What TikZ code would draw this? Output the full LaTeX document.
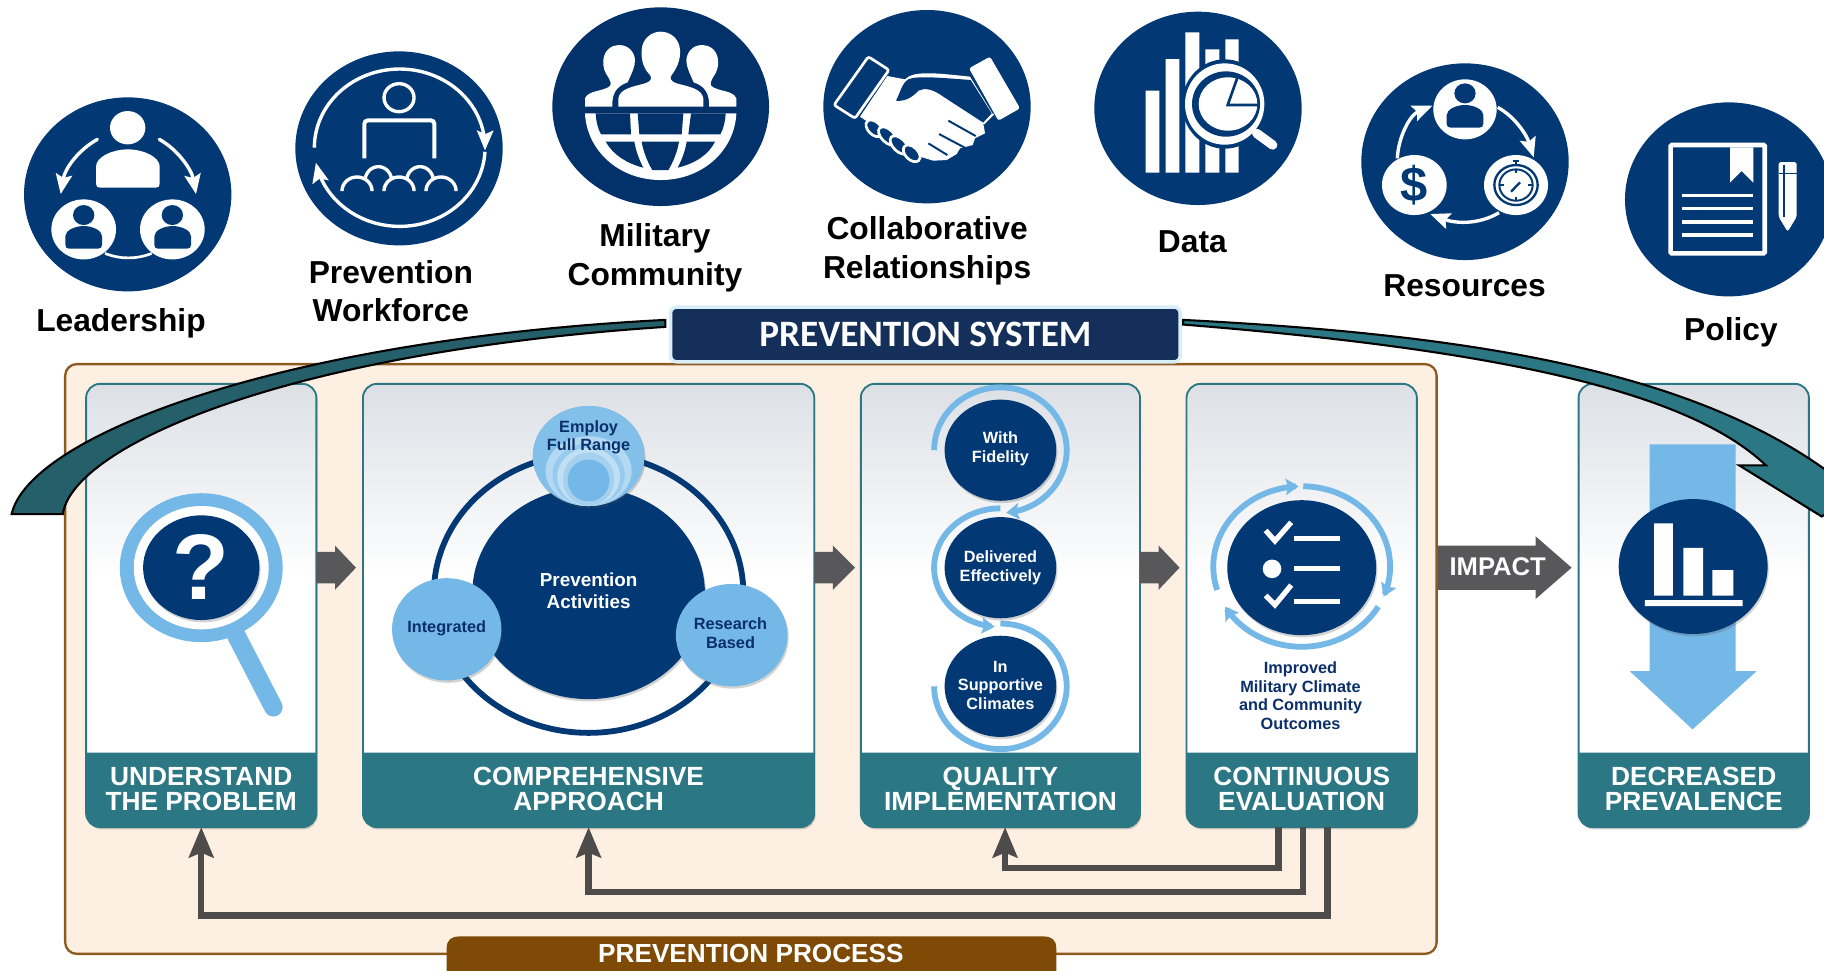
\documentclass[tikz,border=0pt]{standalone}
\usepackage{fontspec}
\setmainfont{Liberation Sans}
\newfontfamily\titlefont{Carlito}
\usetikzlibrary{arrows.meta,calc,shadows}
\definecolor{cNavy}{HTML}{023975}
\definecolor{cNavyB}{HTML}{03326A}
\definecolor{cSky}{HTML}{74B8E7}
\definecolor{cTeal}{HTML}{2B7783}
\definecolor{cTealD}{HTML}{255F6A}
\definecolor{cCardTop}{HTML}{DCE0E5}
\definecolor{cGrey}{HTML}{58585A}
\definecolor{cLine}{HTML}{4E4C4B}
\definecolor{cPanel}{HTML}{FDF0E3}
\definecolor{cPanelB}{HTML}{8D5B20}
\definecolor{cBrown}{HTML}{7E4A05}
\definecolor{cTitle}{HTML}{14305A}
\definecolor{cTitleB}{HTML}{D8EEF8}
\definecolor{cInk}{HTML}{0B2F6B}
\pgfdeclareverticalshading{cardshade}{100bp}{color(0bp)=(white);color(53bp)=(white);color(75bp)=(cCardTop);color(100bp)=(cCardTop)}
\tikzset{
  iconz/.style={x=.2866pt,y=-.2866pt},
  softshadow/.style={drop shadow={shadow xshift=1pt,shadow yshift=-2pt,opacity=.25,fill=black!70}},
  cardbody/.style={rectangle,rounded corners=12pt,shading=cardshade,draw=cTeal,line width=1.6pt,minimum height=381pt,inner sep=0pt,outer sep=0pt,softshadow},
  cardfoot/.style={fill=cTeal},
  cardtext/.style={text=white,font=\bfseries\fontsize{22.6}{21.3}\selectfont,align=center,inner sep=0pt},
  iconlabel/.style={text=black,font=\bfseries\fontsize{27.3}{33}\selectfont,align=center,inner sep=0pt},
  inktext/.style={text=cInk,font=\bfseries\fontsize{14}{16}\selectfont,align=center,inner sep=0pt},
  whitetext/.style={text=white,font=\bfseries\fontsize{14}{16}\selectfont,align=center,inner sep=0pt},
  feedback/.style={draw=cLine,line width=5.5pt,line join=miter,-{Stealth[length=26pt,width=21pt,inset=4pt]}},
  ringarrow/.style={draw=cSky,line width=5pt,-{Stealth[length=11pt,width=14pt,inset=2pt]}},
  ringplain/.style={draw=cSky,line width=5pt},
  whitearrow/.style={draw=white,line width=2.9pt,-{Stealth[length=17pt,width=14pt,inset=3pt]}},
  sweep/.style={draw=black,line width=1.8pt,line join=miter}
}
\newcommand\ovalz[5][]{\path[#1] (#2,#3) ellipse [x radius=#4,y radius=#5];}
\newcommand\earc[6]{plot[domain=#5:#6,samples=60] ({#1+#3*cos(\x)},{#2+#4*sin(\x)})}
\newcommand\bodyp[4]{({#1+12},#4) .. controls ({#1+4},#4) and (#1,{#4-4}) .. (#1,{#4-12}) -- (#1,{#3+(#4-#3)*.45}) .. controls (#1,{#3+(#4-#3)*.2}) and ({#1+(#2-#1)*.25},#3) .. ({(#1+#2)/2},#3) .. controls ({#1+(#2-#1)*.75},#3) and (#2,{#3+(#4-#3)*.2}) .. (#2,{#3+(#4-#3)*.45}) -- (#2,{#4-12}) .. controls (#2,{#4-4}) and ({#2-4},#4) .. ({#2-12},#4) -- cycle}
\newcommand\card[5]{%
  \pgfmathsetmacro\cardx{(#2+#3)/2}\pgfmathsetmacro\cardw{#3-#2}%
  \node[cardbody,minimum width=\cardw pt] (#1) at (\cardx,520.5) {};
  \fill[cardfoot] (#2,647) -- (#3,647) -- (#3,699) .. controls (#3,706) and ({#3-5},711) .. ({#3-12},711) -- ({#2+12},711) .. controls ({#2+5},711) and (#2,706) .. (#2,699) -- cycle;
  \node[cardtext] (#1t) at (\cardx,678.5) {#4\\#5};
}
\newcommand\blockarrow[6]{\fill[cGrey] (#1,{#4-#5}) -- (#3,{#4-#5}) -- (#3,{#4-#6}) -- (#2,#4) -- (#3,{#4+#6}) -- (#3,{#4+#5}) -- (#1,{#4+#5}) -- cycle;}
\begin{document}
\begin{tikzpicture}[x=1pt,y=-1pt]
\useasboundingbox (0,0) rectangle (1568,834);
\fill[white] (0,0) rectangle (1568,834);
\clip (0,0) rectangle (1568,834);

% Prevention process panel
\draw[fill=cPanel,draw=cPanelB,line width=2pt,rounded corners=10pt] (56,313) rectangle (1235,820);

% Cards
\card{c1}{74}{272}{UNDERSTAND}{THE PROBLEM}
\card{c2}{312}{700}{COMPREHENSIVE}{APPROACH}
\card{c3}{740}{980}{QUALITY}{IMPLEMENTATION}
\card{c4}{1020}{1218}{CONTINUOUS}{EVALUATION}
\card{c5}{1357}{1555}{DECREASED}{PREVALENCE}

% Block arrows
\blockarrow{272}{306}{288}{488}{13.5}{19}
\blockarrow{700}{735}{716}{488}{13.5}{19}
\blockarrow{980}{1014}{996}{488}{13.5}{19}
\blockarrow{1236}{1351}{1320}{488}{19}{27}
\node[text=white,font=\bfseries\fontsize{22}{24}\selectfont,inner sep=0pt] (impact) at (1287.5,487.5) {IMPACT};

% Feedback connectors
\draw[feedback] ($(c4.south)+(-20,0)$) |- ($(c3.south)+(4,35)$) -- ($(c3.south)+(4,0)$);
\draw[feedback] ($(c4.south)+(1,0)$) |- ($(c2.south)+(0,56)$) -- (c2.south);
\draw[feedback] ($(c4.south)+(22,0)$) |- ($(c1.south)+(0,76)$) -- (c1.south);

% Card 1: magnifier
\draw[cSky,line width=16pt,line cap=round] (203,546) -- (235,608);
\ovalz[fill=cSky]{173}{488}{70}{64}
\ovalz[fill=white]{173}{488}{58}{53}
\ovalz[fill=cNavy,softshadow]{173}{488}{50}{45}
\node[text=white,font=\bfseries\fontsize{80}{80}\selectfont,inner sep=0pt] (qm) at (173,487) {?};

% Card 2
\ovalz[draw=cNavy,line width=5pt]{506}{510}{133}{120}
\ovalz[fill=cNavy,softshadow]{506}{510}{100}{91}
\node[text=white,font=\bfseries\fontsize{16.2}{19}\selectfont,align=center,inner sep=0pt] (pa) at (506,507.5) {Prevention\\Activities};
\ovalz[fill=cSky,softshadow]{506}{392}{48}{43}
\begin{scope}
  \clip (506,392) ellipse [x radius=48,y radius=43];
  \ovalz[fill=cSky!90!white]{506}{392}{48}{43}
  \ovalz[fill=cSky!55!white]{506}{405}{37}{30}
  \ovalz[fill=cSky!75!white]{506}{408}{31}{27}
  \ovalz[fill=cSky!45!white]{506}{410}{27}{25}
  \ovalz[fill=cSky!65!white]{506}{412}{22}{23}
  \ovalz[fill=cSky]{506}{413}{18}{18}
\end{scope}
\node[inktext] (employ) at (506,376) {Employ\\Full Range};
\ovalz[fill=cSky,softshadow]{384}{541}{47}{44}
\node[inktext] (integ) at (384,540.5) {Integrated};
\ovalz[fill=cSky,softshadow]{629}{546}{48}{44}
\node[inktext] (research) at (628,544.5) {Research\\Based};

% Card 3
\draw[ringarrow] \earc{860}{387}{57}{54}{180}{445};
\draw[ringarrow] \earc{860}{488}{57}{51}{270}{95};
\draw[ringplain] \earc{860}{590}{57}{54}{-90}{180};
\ovalz[fill=cNavy,softshadow]{860}{387}{48}{43.5}
\ovalz[fill=cNavy,softshadow]{860}{488}{48}{43.5}
\ovalz[fill=cNavy,softshadow]{860}{590}{48}{43.5}
\node[whitetext] (w1) at (860,386) {With\\Fidelity};
\node[whitetext] (w2) at (860,488) {Delivered\\Effectively};
\node[whitetext] (w3) at (860,589) {In\\Supportive\\Climates};

% Card 4
\draw[ringarrow] \earc{1119}{487}{76}{69}{271}{382};
\draw[ringarrow] \earc{1119}{487}{76}{69}{30}{150};
\draw[ringarrow] \earc{1119}{487}{76}{69}{163}{268};
\ovalz[fill=cNavy,softshadow]{1119}{488}{64}{58}
\draw[white,line width=4.5pt] (1112,463) -- (1152,463) (1112,489) -- (1152,489) (1112,517) -- (1152,517);
\ovalz[fill=white]{1093.5}{489}{8}{8}
\draw[white,line width=4.5pt] (1088,456) -- (1096,465) -- (1110,449) (1088,512) -- (1096,520) -- (1110,503);
\node[inktext] (outc) at (1118,598) {Improved\\Military Climate\\and Community\\Outcomes};

% Card 5
\fill[cSky] (1418,382) -- (1492,382) -- (1492,577) -- (1510,577) -- (1455,627) -- (1401,577) -- (1418,577) -- cycle;
\ovalz[fill=cNavy,softshadow]{1455.5}{487}{64}{58}
\fill[white] (1422,450) rectangle (1438,512) (1447,471) rectangle (1464,512) (1472,490) rectangle (1490,512) (1414,516) rectangle (1498,521);

% Icon 1: Leadership
\begin{scope}[shift={(8.6,77.4)},iconz]
  \ovalz[fill=cNavy]{353}{313}{311}{291}
  \ovalz[fill=white]{353}{113}{53}{50}
  \fill[white] \bodyp{258}{449}{178}{293};
  \draw[whitearrow,line cap=round] (262,148) .. controls (205,180) and (165,235) .. (152,312);
  \draw[whitearrow,line cap=round] (448,148) .. controls (505,180) and (545,240) .. (558,312);
  \draw[white,line width=2.3pt] (285,490) .. controls (330,508) and (380,508) .. (425,490);
  \ovalz[fill=white]{221}{418}{97}{90}
  \ovalz[fill=white]{487}{418}{97}{90}
  \ovalz[fill=cNavy]{221}{375}{32}{30}
  \ovalz[fill=cNavy]{487}{375}{32}{30}
  \fill[cNavy] \bodyp{166}{276}{408}{476};
  \fill[cNavy] \bodyp{433}{543}{408}{476};
\end{scope}
\node[iconlabel] (l1) at (104,277.5) {Leadership};

% Icon 2: Prevention Workforce
\begin{scope}[shift={(245,38.7)},iconz]
  \ovalz[fill=cNavy]{342}{310}{311}{291}
  \draw[whitearrow] \earc{344}{308}{256}{236}{180}{362};
  \draw[whitearrow] \earc{344}{308}{256}{236}{3}{169};
  \ovalz[draw=white,line width=2.9pt]{342}{158}{45}{42}
  \draw[white,line width=3.4pt,rounded corners=3pt] (238,340) -- (238,226) -- (448,226) -- (448,340);
  \draw[white,line width=2.9pt] \earc{216}{438}{45}{42}{180}{360};
  \draw[white,line width=2.9pt] \earc{342}{438}{45}{42}{180}{360};
  \draw[white,line width=2.9pt] \earc{468}{438}{45}{42}{180}{360};
  \draw[white,line width=2.9pt] \earc{280}{408}{40}{43}{190}{350};
  \draw[white,line width=2.9pt] \earc{405}{408}{40}{43}{190}{350};
\end{scope}
\node[iconlabel] (l2) at (336,250.5) {Prevention\\Workforce};

% Icon 3: Military Community
\begin{scope}[shift={(468.5,0)},iconz]
  \ovalz[fill=cNavyB]{347}{320}{325}{298}
  \fill[white] (220,320) -- (220,295) .. controls (225,265) and (265,260) .. (300,250) .. controls (318,245) and (322,235) .. (315,225) .. controls (295,205) and (288,180) .. (290,150) .. controls (292,115) and (320,95) .. (347,95) .. controls (375,95) and (403,115) .. (405,150) .. controls (407,180) and (395,205) .. (380,225) .. controls (372,235) and (378,245) .. (395,250) .. controls (430,260) and (470,265) .. (475,295) -- (475,320) -- cycle;
  \fill[white] (120,320) -- (120,295) .. controls (130,270) and (175,275) .. (195,258) .. controls (200,250) and (195,240) .. (190,232) .. controls (178,215) and (173,200) .. (175,180) .. controls (178,150) and (200,135) .. (222,135) .. controls (250,135) and (268,155) .. (270,180) .. controls (270,200) and (262,215) .. (248,247) .. controls (215,258) and (200,280) .. (202,320) -- cycle;
  \fill[white] (574,320) -- (574,295) .. controls (564,270) and (519,275) .. (499,258) .. controls (494,250) and (499,240) .. (504,232) .. controls (516,215) and (521,200) .. (519,180) .. controls (516,150) and (494,135) .. (472,135) .. controls (444,135) and (426,155) .. (424,180) .. controls (424,200) and (432,215) .. (446,247) .. controls (479,258) and (494,280) .. (492,320) -- cycle;
  \fill[white] (120,340) .. controls (125,450) and (220,540) .. (347,540) .. controls (474,540) and (569,450) .. (574,340) -- cycle;
  \fill[cNavyB] (152,340) -- (255,340) -- (258,403) -- (168,403) .. controls (158,385) and (153,362) .. (152,340) -- cycle;
  \fill[cNavyB] (278,340) -- (415,340) -- (410,403) -- (283,403) -- cycle;
  \fill[cNavyB] (438,340) -- (542,340) .. controls (541,362) and (536,385) .. (526,403) -- (430,403) -- cycle;
  \fill[cNavyB] (182,425) -- (268,425) .. controls (273,455) and (283,480) .. (295,503) .. controls (245,490) and (205,465) .. (182,425) -- cycle;
  \fill[cNavyB] (290,425) -- (402,425) .. controls (397,455) and (385,485) .. (370,510) -- (322,510) .. controls (307,485) and (295,455) .. (290,425) -- cycle;
  \fill[cNavyB] (425,425) -- (510,425) .. controls (490,465) and (450,490) .. (398,503) .. controls (410,480) and (420,455) .. (425,425) -- cycle;
\end{scope}
\node[iconlabel] (l3) at (563,221.5) {Military\\Community};

% Icon 4: Collaborative Relationships
\begin{scope}[shift={(696.3,0)},iconz]
  \ovalz[fill=cNavy]{351}{320}{311}{290}
  \fill[white,rounded corners=2pt] (477,205) -- (540,170) -- (630,325) -- (565,362) -- cycle;
  \fill[white] (232,228) -- (285,238) .. controls (310,212) and (370,218) .. (480,230) -- (550,345) -- (520,372) -- (525,400) -- (495,415) -- (488,435) -- (450,445) -- (440,462) -- (410,480) -- (370,482) -- (330,470) -- (150,350) -- cycle;
  \fill[cNavy] (295,238) .. controls (320,226) and (400,234) .. (482,240) -- (545,340) -- (520,368) -- (400,290) .. controls (370,268) and (345,262) .. (325,272) .. controls (305,295) and (280,305) .. (258,302) .. controls (270,280) and (275,250) .. (295,238) -- cycle;
  \draw[white,line width=1.4pt] (550,342) -- (520,372);
  \draw[cNavy,line width=1.7pt] (415,362) -- (497,408) (387,402) -- (468,445) (355,430) -- (412,465);
  \draw[white,line width=2.3pt,fill=cNavy,rounded corners=2pt] (175,170) -- (237,210) -- (135,355) -- (72,315) -- cycle;
  \draw[white,line width=2.3pt,fill=cNavy,rotate around={-45:(193,385)}] (193,385) ellipse [x radius=30,y radius=19];
  \draw[white,line width=2.3pt,fill=cNavy,rotate around={-45:(233,408)}] (233,408) ellipse [x radius=34,y radius=19];
  \draw[white,line width=2.3pt,fill=cNavy,rotate around={-45:(268,435)}] (268,435) ellipse [x radius=34,y radius=19];
  \draw[white,line width=2.3pt,fill=cNavy,rotate around={-45:(305,460)}] (305,460) ellipse [x radius=30,y radius=19];
\end{scope}
\node[iconlabel] (l4) at (797,215.5) {Collaborative\\Relationships};

% Icon 5: Data
\begin{scope}[shift={(928.4,0)},iconz]
  \ovalz[fill=cNavy]{354}{325}{311}{290}
  \fill[white] (197,272) rectangle (238,518) (257,177) rectangle (298,518) (316,97) rectangle (358,518) (376,148) rectangle (418,518) (436,118) rectangle (476,518);
  \ovalz[fill=cNavy]{434}{312}{128}{134}
  \draw[white,line width=8pt,line cap=round] (530,400) -- (578,435);
  \ovalz[fill=white]{434}{312}{119}{122}
  \ovalz[fill=cNavy]{438}{312}{102}{98}
  \ovalz[fill=white]{444}{312}{88}{80}
  \draw[cNavy,line width=2.3pt] (472,233) -- (443,315) -- (535,315);
\end{scope}
\node[iconlabel] (l5) at (1025,208) {Data};

% Icon 6: Resources
\begin{scope}[shift={(1156.2,43)},iconz]
  \ovalz[fill=cNavy]{360}{335}{311}{295}
  \draw[whitearrow] (458,172) .. controls (510,200) and (545,255) .. (566,322);
  \draw[whitearrow] (157,325) .. controls (160,260) and (195,195) .. (262,167);
  \draw[whitearrow] (462,488) .. controls (400,525) and (330,520) .. (256,492);
  \ovalz[fill=white]{360}{178}{95}{90}
  \ovalz[fill=cNavy]{360}{130}{32}{30}
  \fill[cNavy] \bodyp{305}{415}{165}{233};
  \ovalz[fill=white]{208}{405}{97}{90}
  \node[text=cNavy,font=\bfseries\fontsize{42}{42}\selectfont,inner sep=0pt] (dollar) at (208,405) {\$};
  \ovalz[fill=white]{513}{405}{96}{90}
  \ovalz[draw=cNavy,line width=2pt]{513}{405}{65}{60}
  \ovalz[draw=cNavy,line width=1.7pt]{513}{405}{50}{47}
  \draw[cNavy,line width=2pt] (498,425) -- (525,397);
  \draw[cNavy,line width=1.4pt] (513,358) -- (513,368) (513,442) -- (513,452) (466,405) -- (476,405) (550,405) -- (560,405);
  \draw[cNavy,line width=2pt] (513,345) -- (513,333) (503,332) -- (523,332);
\end{scope}
\node[iconlabel] (l6) at (1259,246) {Resources};

% Icon 7: Policy
\begin{scope}[shift={(1384,77.4)},iconz]
  \ovalz[fill=cNavy]{356}{328}{311}{291}
  \draw[white,line width=4pt,rounded corners=1pt] (182,165) rectangle (464,490);
  \fill[white] (360,172) -- (430,172) -- (430,278) -- (395,243) -- (360,278) -- cycle;
  \draw[white,line width=3.1pt] (215,316) -- (430,316) (215,355) -- (430,355) (215,395) -- (430,395) (215,435) -- (430,435);
  \fill[white,rounded corners=2pt] (506,216) -- (560,216) -- (560,380) -- (533,425) -- (506,380) -- cycle;
  \draw[cNavy,line width=1.4pt] (506,250) -- (560,250) (522,226) -- (522,380);
\end{scope}
\node[iconlabel] (l7) at (1488,285.5) {Policy};

% System sweep arrows
\draw[sweep,fill=cTealD] (572,275) .. controls (240,292) and (25,375) .. (10,442) -- (54,442) .. controls (62,385) and (240,303) .. (572,281) -- cycle;
\draw[sweep,fill=cTeal] (1017,275) .. controls (1250,287) and (1450,315) .. (1575,408) -- (1640,400) -- (1566,444) -- (1495,400) -- (1518,400) .. controls (1450,335) and (1280,300) .. (1017,279) -- cycle;

% Title bars
\node[fill=cTitle,draw=cTitleB,line width=3pt,rounded corners=5pt,minimum width=438pt,minimum height=47pt,inner sep=0pt,text=white,font=\titlefont\bfseries\fontsize{32}{34}\selectfont] (sys) at (795.5,287.5) {PREVENTION SYSTEM};
\fill[cBrown] (384,845) -- (384,815) .. controls (384,808) and (388,805) .. (395,805) -- (897,805) .. controls (904,805) and (908,808) .. (908,815) -- (908,845) -- cycle;
\node[text=white,font=\bfseries\fontsize{22.5}{24}\selectfont,inner sep=0pt] (proc) at (645.5,819.5) {PREVENTION PROCESS};
\end{tikzpicture}
\end{document}
